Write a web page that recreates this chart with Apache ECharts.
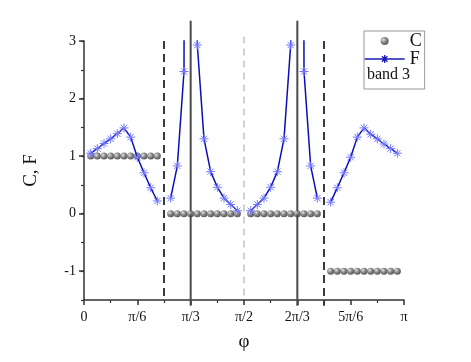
<!DOCTYPE html>
<html>
<head>
<meta charset="utf-8">
<script src="https://cdn.jsdelivr.net/npm/echarts@6/dist/echarts.min.js"></script>
<style>
	html, body { margin: 0; padding: 0; background: #fff; }
	#chart { width: 471px; height: 362px; }
</style>
</head>
<body>
<div id="chart"></div>
<script>
// ----------------------
// Data (phi in steps of pi/48, index k)
// ----------------------
const kValues = [1, 2, 3, 4, 5, 6, 7, 8, 9, 10, 11, 12,
	13, 14, 15, 16, 17, 18, 19, 20, 21, 22, 23, 24,
	25, 26, 27, 28, 29, 30, 31, 32, 33, 34, 35, 36,
	37, 38, 39, 40, 41, 42, 43, 44, 45, 46, 47];

const cValues = [1, 1, 1, 1, 1, 1, 1, 1, 1, 1, 1, null,
	0, 0, 0, 0, 0, 0, 0, 0, 0, 0, 0, null,
	0, 0, 0, 0, 0, 0, 0, 0, 0, 0, 0, null,
	-1, -1, -1, -1, -1, -1, -1, -1, -1, -1, -1];

// F diverges at pi/3 and 2pi/3 (goes off the top of the plot)
const fValues = [1.05, 1.13, 1.22, 1.30, 1.39, 1.49, 1.33, 0.98, 0.71, 0.45, 0.22, null,
	0.27, 0.83, 2.47, 60, 2.93, 1.30, 0.73, 0.46, 0.27, 0.16, 0.05, null,
	0.05, 0.16, 0.27, 0.46, 0.73, 1.30, 2.93, 60, 2.47, 0.83, 0.27, null,
	0.20, 0.45, 0.71, 0.98, 1.33, 1.49, 1.38, 1.30, 1.21, 1.13, 1.05];

// Vertical reference lines
const vlineK = [12, 16, 24, 32, 36];
const vlineTop = [3, 3.35, 3.08, 3.35, 3];
const vlineBottom = [-1.5, -1.6, -1.5, -1.6, -1.6];
const vlineKind = ['dash', 'solid', 'light', 'solid', 'dash'];

// Tick labels
const xTickLabels = { 0: '0', 8: 'π/6', 16: 'π/3', 24: 'π/2', 32: '2π/3', 40: '5π/6', 48: 'π' };
const yTickValues = [-1, 0, 1, 2, 3];

// ----------------------
// Styles
// ----------------------
const serif = 'Liberation Serif';
const axisColor = '#333';
const vlineStyles = {
	dash: { color: '#3a3a3a', width: 2, dash: [8, 5] },
	solid: { color: '#4a4a4a', width: 2, dash: null },
	light: { color: '#c4c4c4', width: 1.5, dash: [7, 5] }
};
const sphere = {
	type: 'radial', x: 0.35, y: 0.35, r: 0.7,
	colorStops: [
		{ offset: 0, color: '#e0e0e0' },
		{ offset: 0.45, color: '#707070' },
		{ offset: 1, color: '#2a2a2a' }
	]
};
const starPath = 'path://M0,4L8,4M4,0L4,8M1.2,1.2L6.8,6.8M1.2,6.8L6.8,1.2';
// legend icon: line with a star in the middle
const fLegendIcon = 'path://M0,4L40,4M16,4L24,4M20,0L20,8M17.2,1.2L22.8,6.8M17.2,6.8L22.8,1.2';

const toPair = (vals) => kValues.map((k, i) => [k, vals[i] == null ? '-' : vals[i]]);

const chart = echarts.init(document.getElementById('chart'));

chart.setOption({
	animation: false,
	grid: { left: 84, right: 67, top: 41, bottom: 62 },
	xAxis: {
		type: 'value', min: 0, max: 48, interval: 8,
		name: 'φ', nameLocation: 'middle', nameGap: 33,
		nameTextStyle: { fontFamily: serif, fontSize: 19, color: '#111' },
		axisLine: { onZero: false, lineStyle: { color: axisColor, width: 1.5 } },
		axisTick: { length: 5, lineStyle: { color: axisColor, width: 1.5 } },
		minorTick: { show: true, splitNumber: 2, length: 3, lineStyle: { color: axisColor, width: 1.2 } },
		axisLabel: {
			margin: 10, fontFamily: serif, fontSize: 14, color: '#111',
			formatter: v => xTickLabels[v] != null ? xTickLabels[v] : ''
		},
		splitLine: { show: false }
	},
	yAxis: [{
		type: 'value', min: -1.5, max: 3,
		name: 'C, F', nameLocation: 'middle', nameGap: 43,
		nameTextStyle: { fontFamily: serif, fontSize: 19, color: '#111' },
		axisLine: { show: true, onZero: false, lineStyle: { color: axisColor, width: 1.5 } },
		axisTick: { show: true, length: 5, customValues: yTickValues, lineStyle: { color: axisColor, width: 1.5 } },
		axisLabel: { margin: 8, fontFamily: serif, fontSize: 14, color: '#111', customValues: yTickValues },
		splitLine: { show: false }
	}, {
		type: 'value', min: -1.5, max: 3, interval: 0.5, position: 'left',
		axisLine: { show: false, onZero: false },
		axisTick: { show: true, length: 3, lineStyle: { color: axisColor, width: 1.2 } },
		axisLabel: { show: false },
		splitLine: { show: false }
	}],
	legend: {
		left: 364, top: 31, orient: 'vertical',
		padding: [1, 3, 21, 0],
		itemGap: 0, itemWidth: 40, itemHeight: 8,
		borderColor: '#999', borderWidth: 1, borderRadius: 0,
		textStyle: { fontFamily: serif, fontSize: 18, color: '#111', lineHeight: 18 },
		data: [
			{ name: 'C' },
			{ name: 'F', icon: fLegendIcon, itemStyle: { color: 'rgba(0,0,0,0)', borderColor: '#1a1ab8', borderWidth: 1.3 } }
		]
	},
	graphic: [{
		type: 'text', left: 367, top: 67,
		style: { text: 'band 3', font: '16px "Liberation Serif"', fill: '#111' }
	}],
	series: [
		{
			type: 'custom',
			z: 1,
			clip: false,
			silent: true,
			data: vlineK.map((k, i) => [k, vlineTop[i], vlineBottom[i]]),
			renderItem: (params, api) => {
				const i = params.dataIndex;
				const top = api.coord([api.value(0), api.value(1)]);
				const bot = api.coord([api.value(0), api.value(2)]);
				const st = vlineStyles[vlineKind[i]];
				return {
					type: 'line',
					shape: { x1: top[0], y1: top[1], x2: bot[0], y2: bot[1] },
					style: { stroke: st.color, lineWidth: st.width, lineDash: st.dash }
				};
			}
		},
		{
			name: 'C',
			type: 'scatter',
			z: 3,
			symbol: 'circle',
			symbolSize: 7,
			itemStyle: { color: sphere },
			data: toPair(cValues)
		},
		{
			name: 'F',
			type: 'line',
			z: 4,
			symbol: starPath,
			symbolSize: 9,
			showSymbol: true,
			itemStyle: { color: 'rgba(0,0,0,0)', borderColor: '#7378ff', borderWidth: 1 },
			lineStyle: { color: '#0d0db8', width: 1.5 },
			data: toPair(fValues)
		}
	]
});
</script>
</body>
</html>
